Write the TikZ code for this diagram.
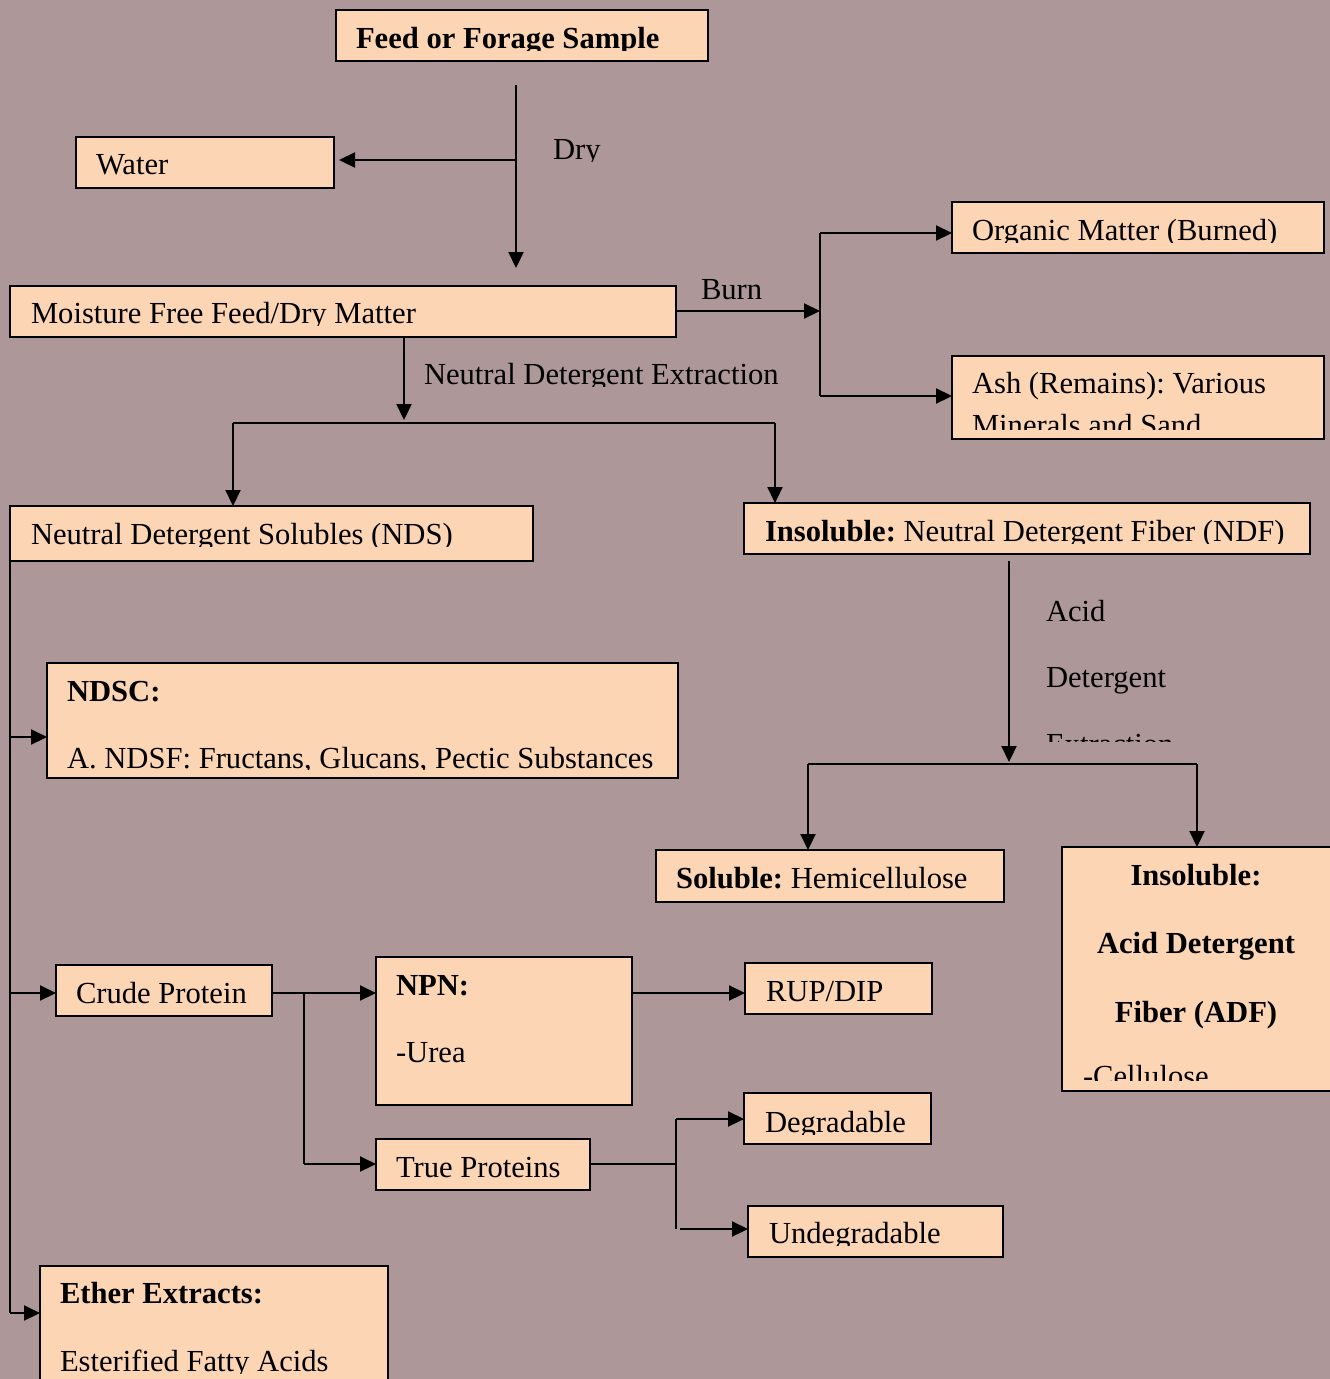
\documentclass[tikz,border=0pt]{standalone}
\usepackage{fontspec}
\setmainfont{Liberation Serif}
\usetikzlibrary{arrows.meta,calc}
\definecolor{bgc}{HTML}{AD9799}
\definecolor{boxc}{HTML}{FCD5B4}
\frenchspacing
\newcommand{\ctext}[5]{%
  \begin{scope}
    \clip (#2-25,#3-60) rectangle (#2+720,#4);
    \node[txt,anchor=base west] (#1) at (#2,#3) {#5};
  \end{scope}}
\newcommand{\mybox}[5]{%
  \node[boxst,minimum width=#4-#2,minimum height=#5-#3,anchor=north west] (#1) at (#2,#3) {};}
\begin{document}
\begin{tikzpicture}[x=1pt,y=-1pt,
  txt/.style={inner sep=0pt,outer sep=0pt,font=\fontsize{30.6}{36}\selectfont\frenchspacing},
  boxst/.style={draw=black,fill=boxc,line width=2pt,inner sep=0pt,outer sep=0pt},
  conn/.style={line width=2.2pt,draw=black},
  arr/.style={conn,-{Triangle[length=16pt,width=15pt]}}]
\fill[bgc] (0,0) rectangle (1330,1379);
\useasboundingbox (0,0) rectangle (1330,1379);
\clip (0,0) rectangle (1330,1379);

% boxes
\mybox{feed}{336}{10}{708}{61}
\mybox{water}{76}{137}{334}{188}
\mybox{moist}{10}{286}{676}{337}
\mybox{organic}{952}{202}{1324}{253}
\mybox{ash}{952}{356}{1324}{439}
\mybox{nds}{10}{506}{533}{561}
\mybox{ndf}{744}{503}{1310}{554}
\mybox{ndsc}{47}{663}{678}{778}
\mybox{soluble}{656}{850}{1004}{902}
\mybox{adf}{1062}{847}{1345}{1091}
\mybox{crude}{56}{965}{272}{1016}
\mybox{npn}{376}{957}{632}{1105}
\mybox{rup}{745}{963}{932}{1014}
\mybox{tp}{376}{1139}{590}{1190}
\mybox{deg}{744}{1093}{931}{1144}
\mybox{undeg}{748}{1206}{1003}{1257}
\mybox{ether}{40}{1266}{388}{1395}

% texts
\ctext{tfeed}{356}{48}{50.5}{\bfseries Feed or Forage Sample}
\node[txt,anchor=base west] (twater) at (96,174) {Water};
\ctext{tdry}{553}{159}{161}{Dry}
\ctext{tmoist}{31}{323}{325}{Moisture Free Feed/Dry Matter}
\node[txt,anchor=base west] (tburn) at (701,299) {Burn};
\ctext{tnde}{424}{384}{386}{Neutral Detergent Extraction}
\ctext{torg}{972}{240}{242}{Organic Matter (Burned)}
\node[txt,anchor=base west] (tash1) at (972,393) {Ash (Remains): Various};
\ctext{tash2}{972}{435}{429}{Minerals and Sand}
\ctext{tnds}{31}{544}{546}{Neutral Detergent Solubles (NDS)}
\ctext{tndf}{765}{541}{543}{\textbf{Insoluble:} Neutral Detergent Fiber (NDF)}
\node[txt,anchor=base west] (tacid) at (1046,621) {Acid};
\node[txt,anchor=base west] (tdet) at (1046,687) {Detergent};
\ctext{text}{1046}{754}{741}{Extraction}
\node[txt,anchor=base west] (tndsc1) at (67,701) {\bfseries NDSC:};
\ctext{tndsc2}{67}{768}{769.5}{A. NDSF: Fructans, Glucans, Pectic Substances}
\node[txt,anchor=base west] (tsol) at (676,888) {\textbf{Soluble:} Hemicellulose};
\node[txt,anchor=base] (tadf1) at (1196,885) {\bfseries Insoluble:};
\node[txt,anchor=base] (tadf2) at (1196,953) {\bfseries Acid Detergent};
\node[txt,anchor=base] (tadf3) at (1196,1022) {\bfseries Fiber (ADF)};
\ctext{tadf4}{1083}{1086}{1080}{-Cellulose}
\node[txt,anchor=base west] (tcrude) at (76,1003) {Crude Protein};
\node[txt,anchor=base west] (tnpn1) at (396,995) {\bfseries NPN:};
\node[txt,anchor=base west] (tnpn2) at (396,1062) {-Urea};
\ctext{trup}{766}{1001}{1003}{RUP/DIP}
\node[txt,anchor=base west] (ttp) at (396,1177) {True Proteins};
\ctext{tdeg}{765}{1132}{1134}{Degradable}
\ctext{tundeg}{769}{1243}{1245}{Undegradable}
\node[txt,anchor=base west] (tether1) at (60,1303) {\bfseries Ether Extracts:};
\ctext{tether2}{60}{1371}{1373}{Esterified Fatty Acids}

% junction coordinates
\coordinate (dtop) at (516,85);
\coordinate (dbot) at (516,268);
\coordinate (dj) at (516,160);
\coordinate (bj) at (820,311);
\coordinate (bt) at (820,233);
\coordinate (bb) at (820,396);
\coordinate (nj) at (404,423);
\coordinate (nl) at (233,423);
\coordinate (nr) at (775,423);
\coordinate (aj) at (1009,764);
\coordinate (al) at (808,764);
\coordinate (ar) at (1197,764);
\coordinate (lj1) at (10,737);
\coordinate (lj2) at (10,993);
\coordinate (lj3) at (10,1313);
\coordinate (cj) at (304,993);
\coordinate (cb) at (304,1164);
\coordinate (tj) at (676,1164);
\coordinate (tt) at (676,1119);
\coordinate (tb) at (676,1229);

% connectors
\draw[arr] (dtop) -- (dbot);
\draw[arr,shorten >=5pt] (dj) -- (dj -| water.east);
\draw[arr] (moist.east |- bj) -- (bj);
\draw[conn] (bt) -- (bb);
\draw[arr] (bt) -- (bt -| organic.west);
\draw[arr] (bb) -- (bb -| ash.west);
\draw[arr] (moist.south -| nj) -- ($(nj)+(0,-3)$);
\draw[conn] (nl) -- (nr);
\draw[arr] (nl) -- (nl |- nds.north);
\draw[arr] (nr) -- (nr |- ndf.north);
\draw[arr] ($(ndf.south -| aj)+(0,7)$) -- ($(aj)+(0,-2)$);
\draw[conn] (al) -- (ar);
\draw[arr] (al) -- (al |- soluble.north);
\draw[arr] (ar) -- (ar |- adf.north);
\draw[conn] (nds.south west) -- (lj3);
\draw[arr] (lj1) -- (lj1 -| ndsc.west);
\draw[arr] (lj2) -- (lj2 -| crude.west);
\draw[arr] (lj3) -- (lj3 -| ether.west);
\draw[arr] (crude.east |- cj) -- (cj -| npn.west);
\draw[conn] (cj) -- (cb);
\draw[arr] (cb) -- (cb -| tp.west);
\draw[arr] (npn.east |- lj2) -- (lj2 -| rup.west);
\draw[conn] (tp.east |- tj) -- (tj);
\draw[conn] (tt) -- (tb);
\draw[arr] (tt) -- (tt -| deg.west);
\draw[arr] ($(tb)+(4,0)$) -- (tb -| undeg.west);
\end{tikzpicture}
\end{document}
